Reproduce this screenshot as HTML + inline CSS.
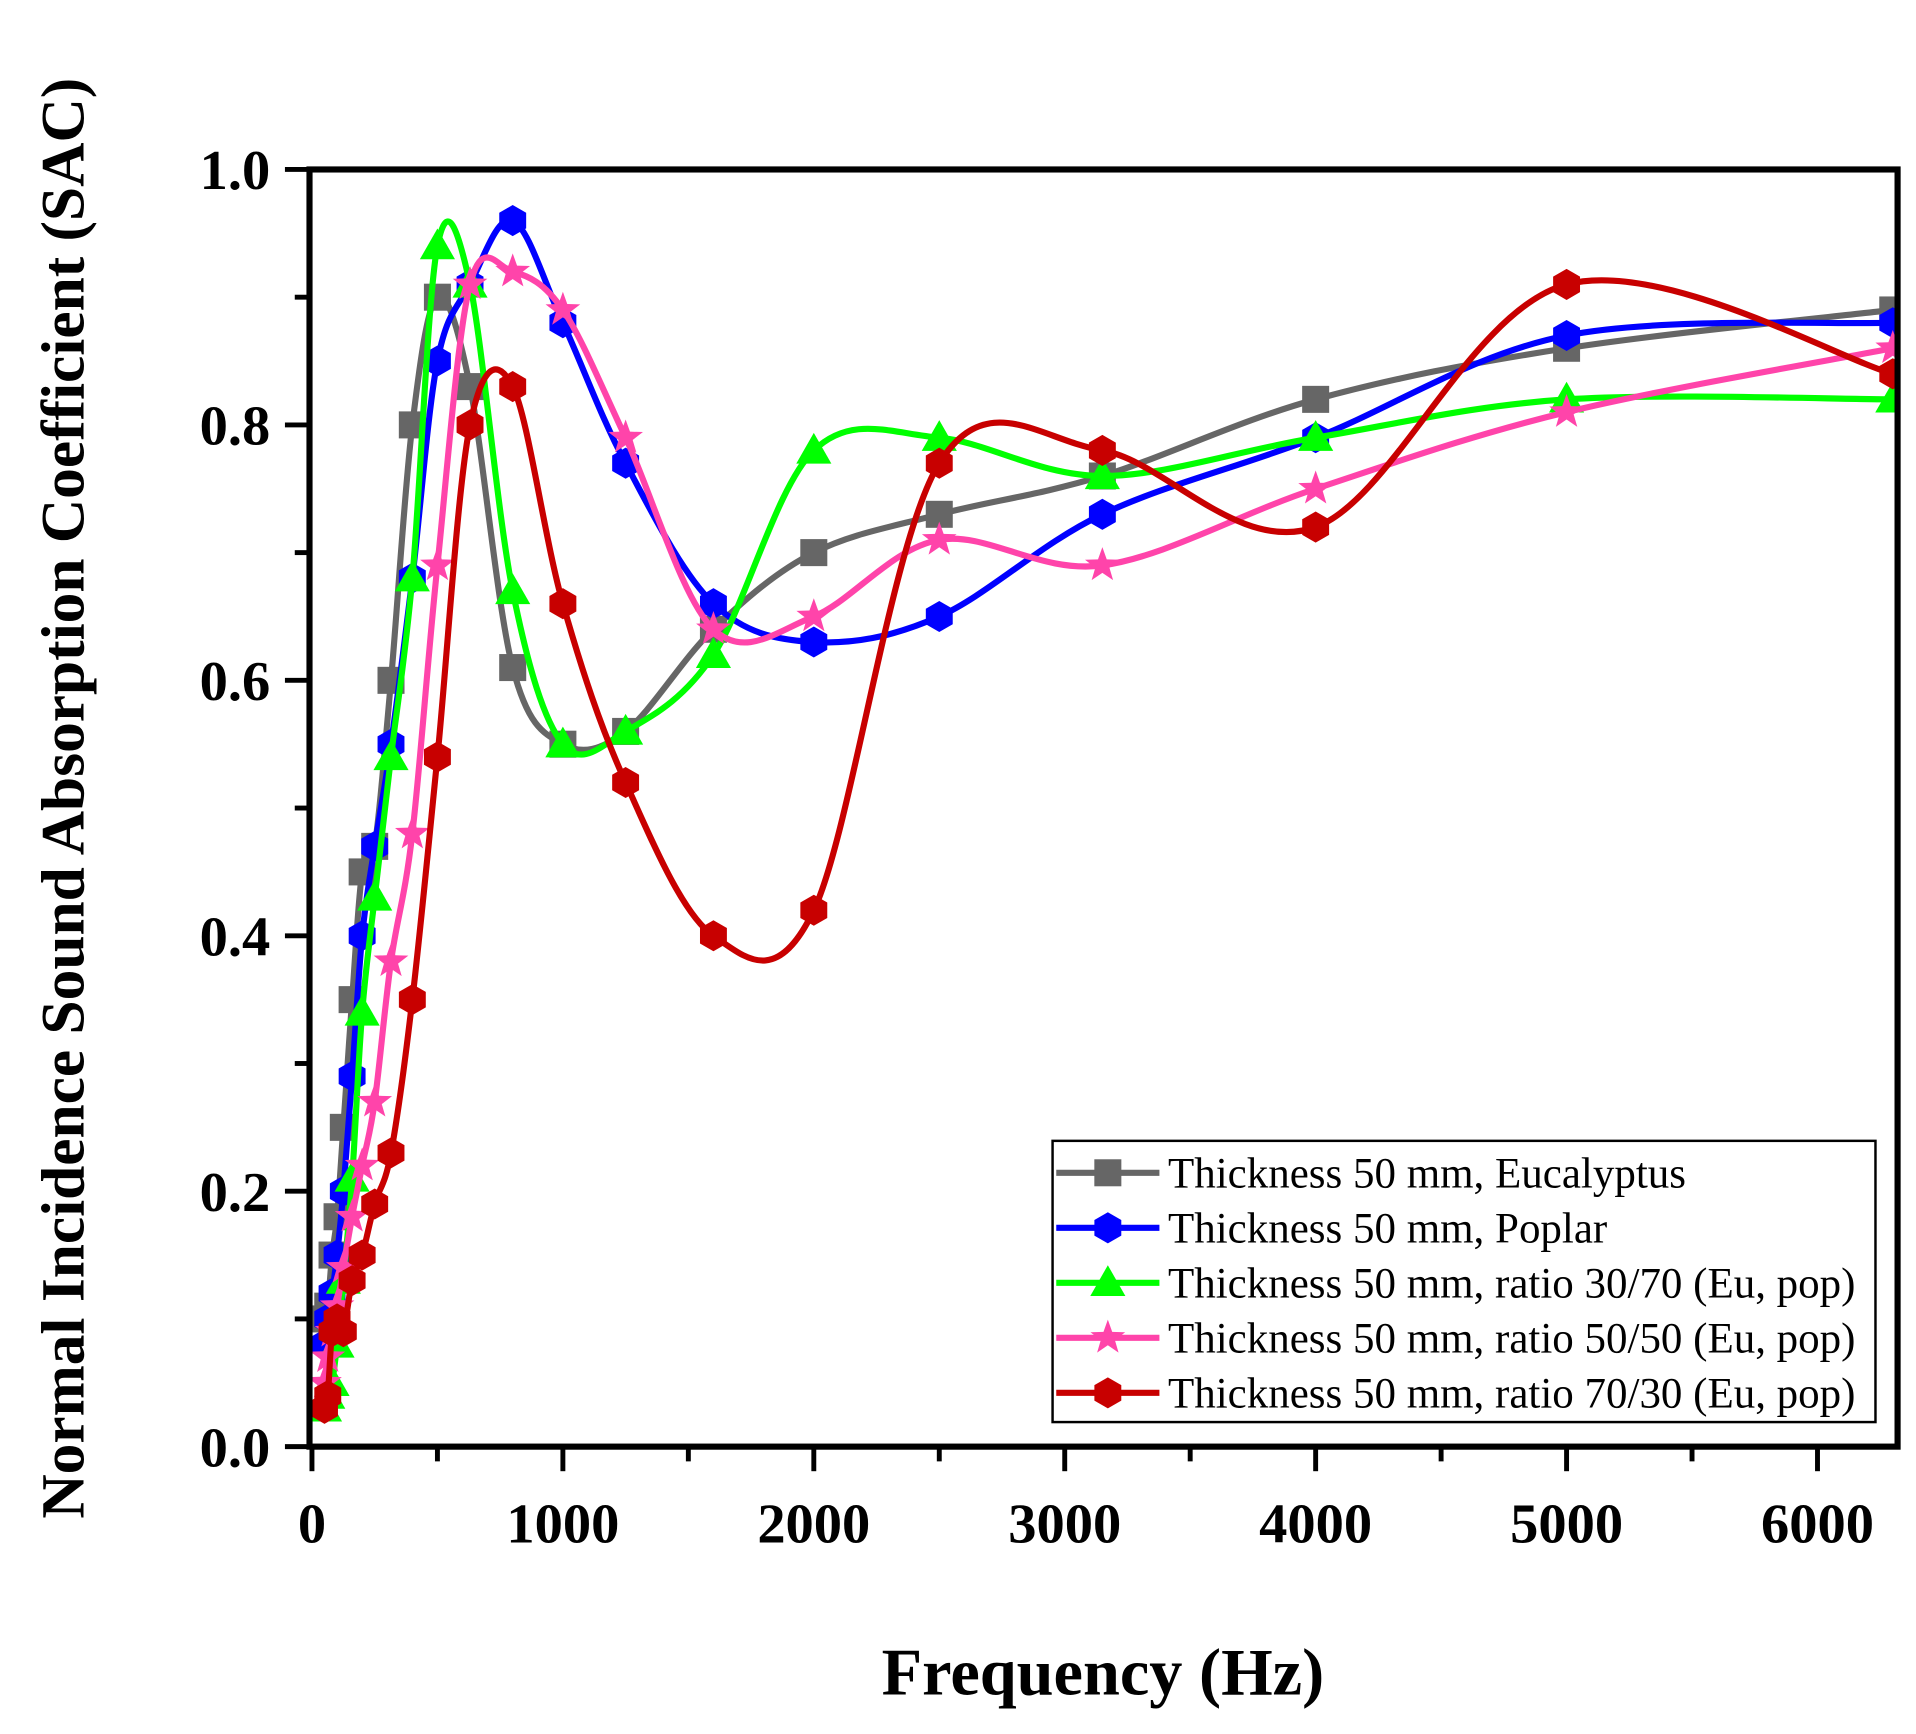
<!DOCTYPE html>
<html><head><meta charset="utf-8"><style>
html,body{margin:0;padding:0;background:#fff;}
svg{display:block;}
text{font-family:"Liberation Serif",serif;}
</style></head><body>
<svg id="chart" width="1916" height="1734" viewBox="0 0 1560 1412" preserveAspectRatio="none" xmlns="http://www.w3.org/2000/svg">
<rect width="1560" height="1412" fill="#fff"/>
<g id="plot"></g>
</svg>
<script>
const freqs = [50,63,80,100,125,160,200,250,315,400,500,630,800,1000,1250,1600,2000,2500,3150,4000,5000,6300];
const sEuc = [0.10,0.11,0.15,0.18,0.25,0.35,0.45,0.47,0.60,0.80,0.90,0.83,0.61,0.55,0.56,0.64,0.70,0.73,0.76,0.82,0.86,0.89];
const sPop = [0.08,0.10,0.12,0.15,0.20,0.29,0.40,0.47,0.55,0.68,0.85,0.91,0.96,0.88,0.77,0.66,0.63,0.65,0.73,0.79,0.87,0.88];
const s3070 = [0.03,0.04,0.05,0.08,0.13,0.21,0.34,0.43,0.54,0.68,0.94,0.91,0.67,0.55,0.56,0.62,0.78,0.79,0.76,0.79,0.82,0.82];
const s5050 = [0.05,0.07,0.09,0.11,0.14,0.18,0.22,0.27,0.38,0.48,0.69,0.91,0.92,0.89,0.79,0.64,0.65,0.71,0.69,0.75,0.81,0.86];
const s7030 = [0.03,0.04,0.09,0.10,0.09,0.13,0.15,0.19,0.23,0.35,0.54,0.80,0.83,0.66,0.52,0.40,0.42,0.77,0.78,0.72,0.91,0.84];
const xTicks = [0,1000,2000,3000,4000,5000,6000];
const yTicks = [0.0,0.2,0.4,0.6,0.8,1.0];
const legendLabels = ["Thickness 50 mm, Eucalyptus","Thickness 50 mm, Poplar","Thickness 50 mm, ratio 30/70 (Eu, pop)","Thickness 50 mm, ratio 50/50 (Eu, pop)","Thickness 50 mm, ratio 70/30 (Eu, pop)"];

const L=252,R=1545,T=138,B=1178,X0=254,XPER=0.2043;
const xs=v=>X0+v*XPER;
const ys=v=>B-v*(B-T);
const NS="http://www.w3.org/2000/svg";
const g=document.getElementById('plot');
function mk(tag,attrs,parent){const e=document.createElementNS(NS,tag);for(const k in attrs)e.setAttribute(k,attrs[k]);(parent||g).appendChild(e);return e;}

xTicks.forEach((t,i)=>{
  const tk=mk('line',{x1:xs(t),x2:xs(t),y1:B,y2:B+20,stroke:'#000','stroke-width':4});
  
  
  if(i<xTicks.length-1){const m=mk('line',{x1:xs(t+500),x2:xs(t+500),y1:B,y2:B+12,stroke:'#000','stroke-width':4});
    
    }
  const lb=mk('text',{x:xs(t),y:1256,'text-anchor':'middle','font-size':46,'font-weight':'bold'});
  lb.textContent=String(t);
  
  
});
yTicks.forEach((t,i)=>{
  const tk=mk('line',{x1:L-20,x2:L,y1:ys(t),y2:ys(t),stroke:'#000','stroke-width':4});
  
  
  if(i<yTicks.length-1){const m=mk('line',{x1:L-12,x2:L,y1:ys(t+0.1),y2:ys(t+0.1),stroke:'#000','stroke-width':4});
    
    }
  const lb=mk('text',{x:220,y:ys(t)+16,'text-anchor':'end','font-size':46,'font-weight':'bold'});
  lb.textContent=t.toFixed(1);
  
  
});

function spline(pts){
  let d=`M${pts[0][0]},${pts[0][1]}`;
  for(let i=0;i<pts.length-1;i++){
    const p0=pts[i-1]||pts[i],p1=pts[i],p2=pts[i+1],p3=pts[i+2]||p2;
    const c1=[p1[0]+(p2[0]-p0[0])/6,p1[1]+(p2[1]-p0[1])/6];
    const c2=[p2[0]-(p3[0]-p1[0])/6,p2[1]-(p3[1]-p1[1])/6];
    d+=` C${c1[0]},${c1[1]} ${c2[0]},${c2[1]} ${p2[0]},${p2[1]}`;
  }
  return d;
}
function marker(type,x,y,color,parent){
  const r=11;
  if(type==='square') return mk('rect',{x:x-r,y:y-r,width:2*r,height:2*r,fill:color},parent);
  if(type==='hex'){let p=[];for(let k=0;k<6;k++){const a=Math.PI/2+k*Math.PI/3;p.push((x+r*1.15*Math.cos(a))+','+(y-r*1.15*Math.sin(a)));}return mk('polygon',{points:p.join(' '),fill:color},parent);}
  if(type==='tri'){const s=r*1.3;return mk('polygon',{points:`${x},${y-s} ${x-s},${y+s*0.75} ${x+s},${y+s*0.75}`,fill:color},parent);}
  if(type==='star'){let p=[];for(let k=0;k<10;k++){const rr=k%2?r*0.55:r*1.35;const a=Math.PI/2+k*Math.PI/5;p.push((x+rr*Math.cos(a))+','+(y-rr*Math.sin(a)));}return mk('polygon',{points:p.join(' '),fill:color},parent);}
}
const series=[[sEuc,'#666666','square','series-eucalyptus'],[sPop,'#0000ff','hex','series-poplar'],[s3070,'#00ff00','tri','series-30-70'],[s5050,'#ff44aa','star','series-50-50'],[s7030,'#c80000','hex','series-70-30']];
const clip=mk('clipPath',{id:'cp'});mk('rect',{x:L,y:T-40,width:R-L,height:B-T+40},clip);
series.forEach(([vals,col,mt,name])=>{
  const grp=mk('g',{'clip-path':'url(#cp)'});
  
  
  const pts=freqs.map((f,i)=>[xs(f),ys(vals[i])]);
  const p=mk('path',{d:spline(pts),fill:'none',stroke:col,'stroke-width':5,'stroke-linejoin':'round'},grp);
  
  
  pts.forEach(pt=>{const m=marker(mt,pt[0],pt[1],col,grp);
    
    });
});

const fr=mk('rect',{x:L,y:T,width:R-L,height:B-T,fill:'none',stroke:'#000','stroke-width':5});



const lg=mk('g',{});


mk('rect',{x:857,y:929,width:670,height:229,fill:'#fff',stroke:'#000','stroke-width':2},lg);
series.forEach(([vals,col,mt,name],i)=>{
  const y=955+i*44.8;
  const e=mk('g',{},lg);
  
  
  mk('line',{x1:860,x2:944,y1:y,y2:y,stroke:col,'stroke-width':5},e);
  marker(mt,902,y,col,e);
  const t=mk('text',{x:951,y:y+12,'font-size':35},e);
  t.textContent=legendLabels[i];
});

const xt=mk('text',{x:898,y:1380,'text-anchor':'middle','font-size':54,'font-weight':'bold'});
xt.textContent='Frequency (Hz)';


const yt=mk('text',{x:0,y:0,'text-anchor':'middle','font-size':50,'font-weight':'bold',transform:'translate(68,650) rotate(-90)'});
yt.textContent='Normal Incidence Sound Absorption Coefficient (SAC)';


</script>
</body></html>
